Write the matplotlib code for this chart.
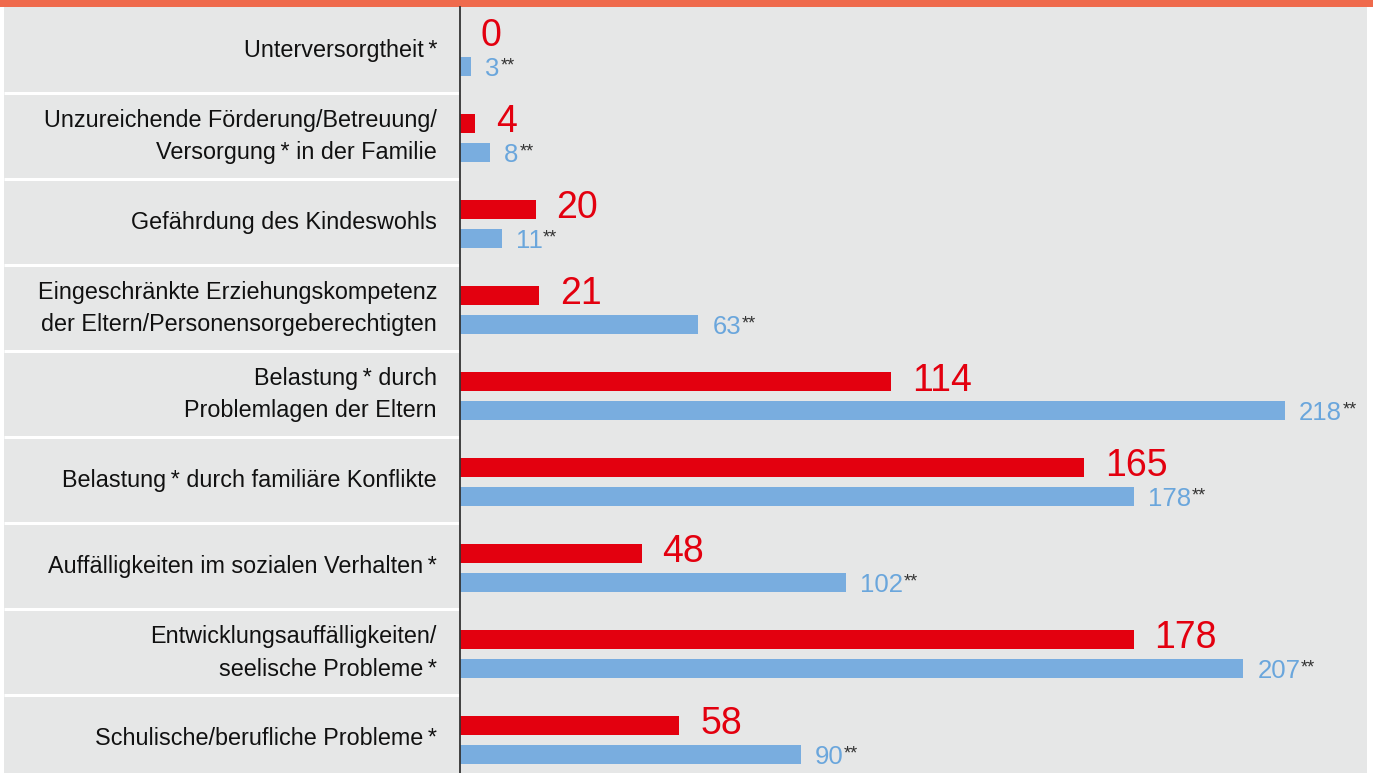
import matplotlib.pyplot as plt
import matplotlib.transforms as mtransforms
from matplotlib.patches import Rectangle

plt.rcParams['font.family'] = ['Liberation Sans', 'DejaVu Sans']

kategorien = [
    "Unterversorgtheit\u2009*",
    "Unzureichende Förderung/Betreuung/\nVersorgung\u2009* in der Familie",
    "Gefährdung des Kindeswohls",
    "Eingeschränkte Erziehungskompetenz\nder Eltern/Personensorgeberechtigten",
    "Belastung\u2009* durch\nProblemlagen der Eltern",
    "Belastung\u2009* durch familiäre Konflikte",
    "Auffälligkeiten im sozialen Verhalten\u2009*",
    "Entwicklungsauffälligkeiten/\nseelische Probleme\u2009*",
    "Schulische/berufliche Probleme\u2009*",
]
werte_rot = [0, 4, 20, 21, 114, 165, 48, 178, 58]
werte_blau = [3, 8, 11, 63, 218, 178, 102, 207, 90]

ROT = '#e3000f'
BLAU = '#79addf'
BLAU_TEXT = '#6aa6dc'
GRAU = '#e6e7e7'
ORANGE = '#ef6a4c'

W, H = 1373, 773
fig = plt.figure(figsize=(W / 100, H / 100), dpi=100)
fig.patch.set_facecolor('white')

# Hintergrund in Pixelkoordinaten
bg = fig.add_axes([0, 0, 1, 1])
bg.set_xlim(0, W)
bg.set_ylim(H, 0)
bg.axis('off')
bg.add_patch(Rectangle((0, 0), W, 7, color=ORANGE, lw=0))
bg.add_patch(Rectangle((4, 7), 1363, H - 7, color=GRAU, lw=0))

row_h = 86
top = 7
n = len(kategorien)
for i in range(1, n):
    y = top + row_h * i - 0.5
    bg.plot([4, 460], [y, y], color='white', lw=2.2, solid_capstyle='butt')

# Hauptachse
px_per_unit = 825 / 218
ax = fig.add_axes([460 / W, 0, (1367 - 460) / W, (H - top) / H])
ax.set_facecolor('none')
ax.set_xlim(0, (1367 - 460) / px_per_unit)
y_top = (top - (top + row_h / 2)) / row_h
y_bot = (H - (top + row_h / 2)) / row_h
ax.set_ylim(y_bot, y_top)
for s in ['top', 'right', 'bottom']:
    ax.spines[s].set_visible(False)
ax.spines['left'].set_color('#333333')
ax.spines['left'].set_linewidth(1.3)
ax.set_xticks([])
ax.set_yticks([])

bar_h = 19 / row_h
off_rot = -13 / row_h
off_blau = 16 / row_h
pos = list(range(n))
y_rot = [p + off_rot for p in pos]
y_blau = [p + off_blau for p in pos]

ax.barh(y_rot, werte_rot, height=bar_h, color=ROT, lw=0)
ax.barh(y_blau, werte_blau, height=bar_h, color=BLAU, lw=0)

for yr, v in zip(y_rot, werte_rot):
    ax.annotate(str(v), xy=(v, yr + bar_h / 2), xytext=(15, 0),
                textcoords='offset points', color=ROT, fontsize=27,
                ha='left', va='baseline', annotation_clip=False)

for yb, v in zip(y_blau, werte_blau):
    t = ax.annotate(str(v), xy=(v, yb + bar_h / 2), xytext=(10, 0),
                    textcoords='offset points', color=BLAU_TEXT, fontsize=18.5,
                    ha='left', va='baseline', annotation_clip=False)
    ax.annotate('**', xy=(1, 1), xycoords=t, xytext=(0.5, -0.5),
                textcoords='offset points', color='#333333', fontsize=13,
                ha='left', va='top')

# Kategorienbeschriftungen
trans = mtransforms.blended_transform_factory(fig.transFigure, ax.transData)
for p, lab in zip(pos, kategorien):
    ax.text(437 / W, p + 1 / row_h, lab, transform=trans, ha='right', va='center',
            fontsize=16.8, color='#111111', linespacing=1.5, clip_on=False)

fig.savefig('out.png', dpi=100, facecolor=fig.get_facecolor())
